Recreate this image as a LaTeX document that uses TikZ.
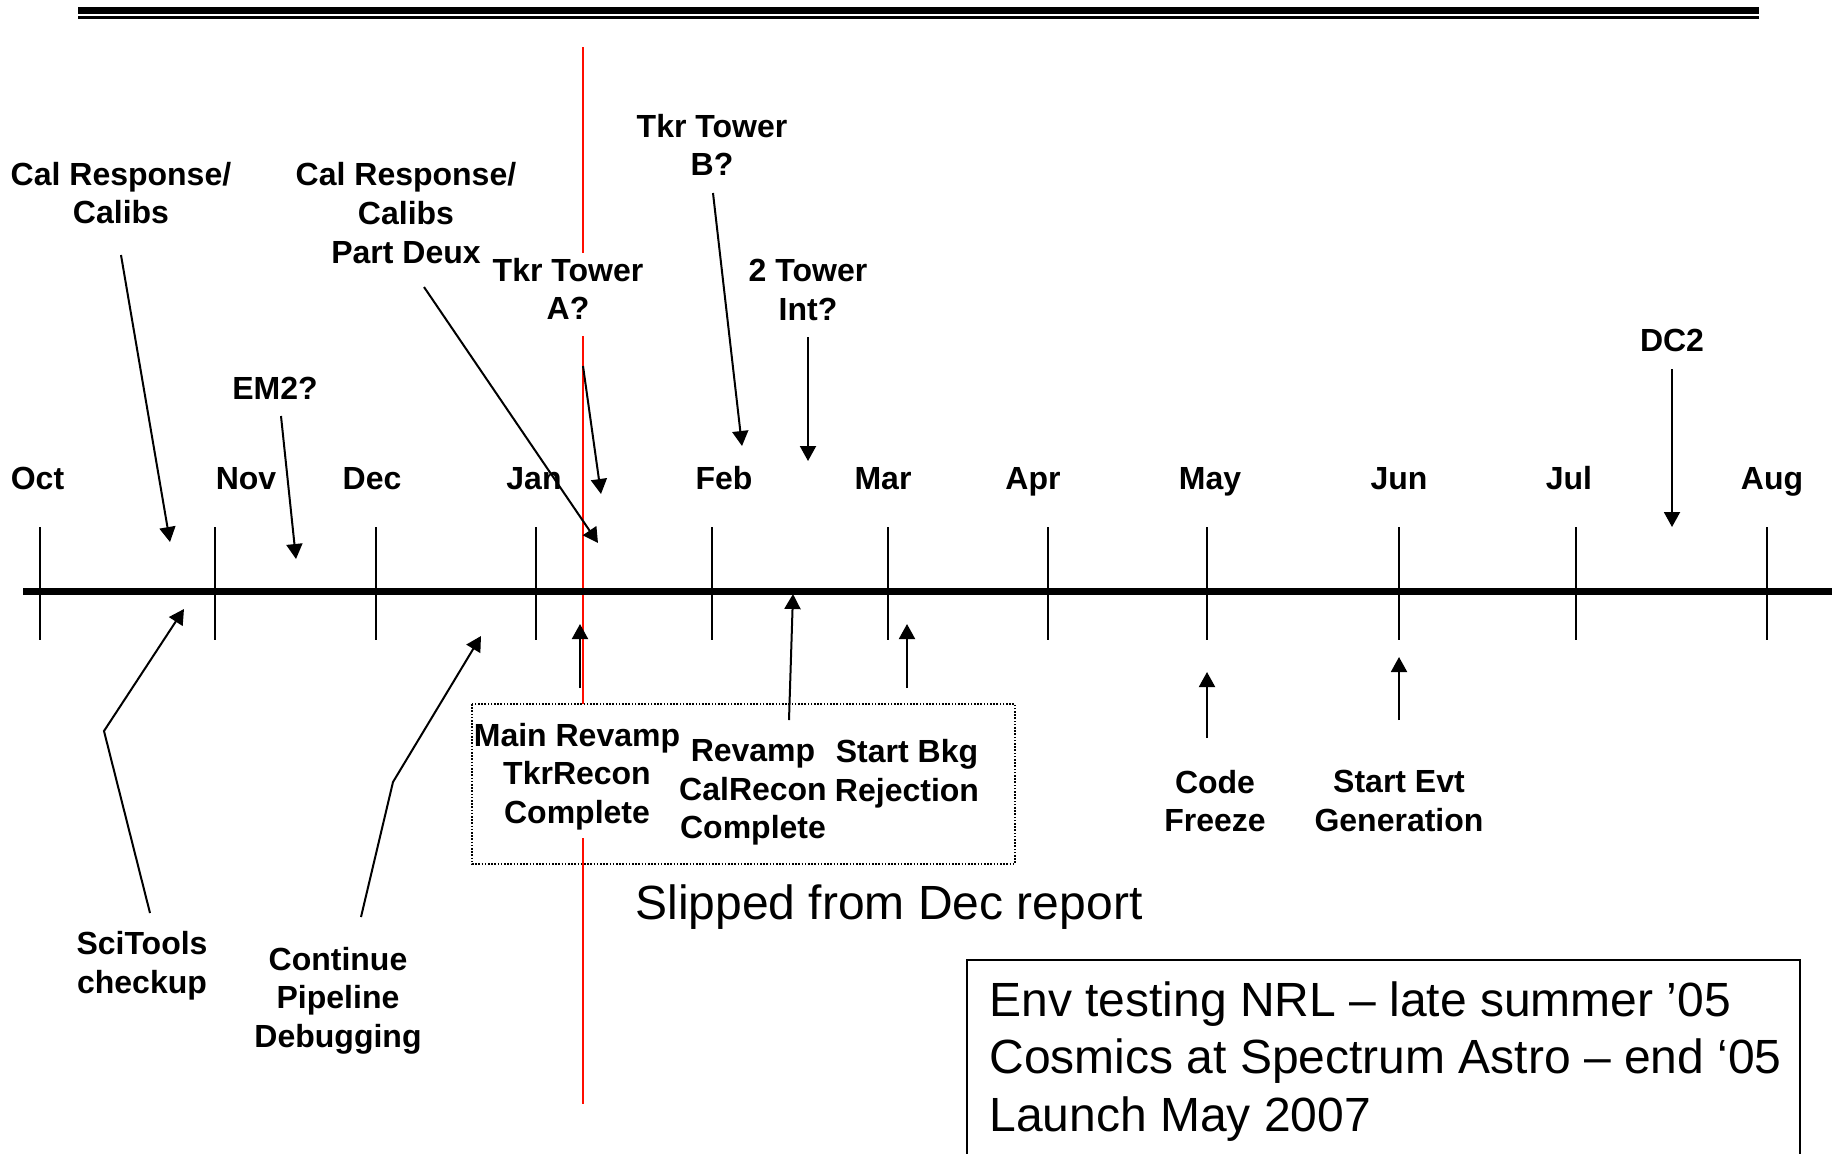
\documentclass[tikz,border=0pt]{standalone}
\usepackage{fontspec}
\setmainfont{Liberation Sans}
\usetikzlibrary{arrows.meta}
\tikzset{
  lbl/.style={font=\fontsize{16}{19.3}\selectfont\bfseries, align=center, inner sep=0pt},
  month/.style={lbl, text height=11.7pt, text depth=0pt},
  big/.style={font=\fontsize{24}{28.7}\selectfont, inner sep=0pt},
  arr/.style={line width=1pt, -{Triangle[length=7.5pt,width=8pt]}},
  tick/.style={line width=1pt},
  redline/.style={line width=0.8pt, red!90!orange}
}
\begin{document}
\begin{tikzpicture}[x=0.5pt,y=-0.5pt]
\useasboundingbox (0,0) rectangle (1836,1153);
\clip (0,0) rectangle (1836,1153);
% header rules
\draw[line width=3.6pt] (78,10.4) -- (1759,10.4);
\draw[line width=1.4pt] (78,17.6) -- (1759,17.6);
% red line
\draw[redline] (583,47) -- (583,253);
\draw[redline] (583,336) -- (583,704);
\draw[redline] (583,838) -- (583,1104);
% axis
\draw[line width=3.5pt] (23,591) -- (1832,591);
\foreach \x in {39.8,215.4,375.9,536.3,711.9,887.5,1048,1207,1399,1576,1767}
  \draw[tick] (\x,527) -- (\x,640);
% months
\node[month] (oct) at (37.5,477.5) {Oct};
\node[month] (nov) at (246,477.5) {Nov};
\node[month] (dec) at (372,477.5) {Dec};
\node[month] (jan) at (534,477.5) {Jan};
\node[month] (feb) at (724,477.5) {Feb};
\node[month] (mar) at (883,477.5) {Mar};
\node[month] (apr) at (1033,477.5) {Apr};
\node[month] (may) at (1210,477.5) {May};
\node[month] (jun) at (1399,477.5) {Jun};
\node[month] (jul) at (1569,477.5) {Jul};
\node[month] (aug) at (1772,477.5) {Aug};
% top labels
\node[lbl] (calA) at (121,193) {Cal Response/\\Calibs};
\node[lbl] (em2) at (275,388) {EM2?};
\node[lbl] (calB) at (406,213) {Cal Response/\\Calibs\\Part Deux};
\node[lbl] (tkrA) at (568,289) {Tkr Tower\\A?};
\node[lbl] (tkrB) at (712,145) {Tkr Tower\\B?};
\node[lbl] (twoT) at (808,290) {2 Tower\\Int?};
\node[lbl] (dc2) at (1672,340) {DC2};
% bottom labels
\node[lbl] (sci) at (142,965.5) {SciTools\\checkup};
\node[lbl] (cont) at (338,1000.5) {Continue\\Pipeline\\Debugging};
\node[lbl] (mainR) at (577,776.5) {Main Revamp\\TkrRecon\\Complete};
\node[lbl] (revC) at (753,792.5) {Revamp\\CalRecon\\Complete};
\node[lbl] (bkg) at (907,773.5) {Start Bkg\\Rejection};
\node[lbl] (code) at (1215,801) {Code\\Freeze};
\node[lbl] (evt) at (1399,801) {Start Evt\\Generation};
% dotted box
\draw[line width=0.6pt, dash pattern=on 0.8pt off 0.8pt] (472,704) rectangle (1015,864);
\node[big] (slip) at (889,907.5) {Slipped from Dec report};
% bottom-right box
\draw[line width=0.8pt] (967,960) rectangle (1800,1200);
\node[big, anchor=west, align=left] (env) at (989,1061.5) {Env testing NRL -- late summer ’05\\Cosmics at Spectrum Astro -- end ‘05\\Launch May 2007};
% arrow coordinates
\coordinate (s1) at (121,255); \coordinate (e1) at (170,542);
\coordinate (s2) at (281,416); \coordinate (e2) at (296,559);
\coordinate (s3) at (424,287); \coordinate (e3) at (598,543);
\coordinate (s4) at (583,366); \coordinate (e4) at (601,494);
\coordinate (s5) at (713,193); \coordinate (e5) at (742,446);
\coordinate (s6) at (808,337); \coordinate (e6) at (808,461);
\coordinate (s7) at (1672,369); \coordinate (e7) at (1672,527);
\coordinate (s8) at (150,913); \coordinate (m8) at (104,731); \coordinate (e8) at (184,609);
\coordinate (s9) at (361,917); \coordinate (m9) at (393,782); \coordinate (e9) at (481,636);
\coordinate (s10) at (580,688); \coordinate (e10) at (580,624);
\coordinate (s11) at (789,720); \coordinate (e11) at (793,594);
\coordinate (s12) at (907,688); \coordinate (e12) at (907,624);
\coordinate (s13) at (1207,738); \coordinate (e13) at (1207,672);
\coordinate (s14) at (1399,720); \coordinate (e14) at (1399,657);
\draw[arr] (s1) -- (e1);
\draw[arr] (s2) -- (e2);
\draw[arr] (s3) -- (e3);
\draw[arr] (s4) -- (e4);
\draw[arr] (s5) -- (e5);
\draw[arr] (s6) -- (e6);
\draw[arr] (s7) -- (e7);
\draw[arr] (s8) -- (m8) -- (e8);
\draw[arr] (s9) -- (m9) -- (e9);
\draw[arr] (s10) -- (e10);
\draw[arr] (s11) -- (e11);
\draw[arr] (s12) -- (e12);
\draw[arr] (s13) -- (e13);
\draw[arr] (s14) -- (e14);
\end{tikzpicture}
\end{document}
